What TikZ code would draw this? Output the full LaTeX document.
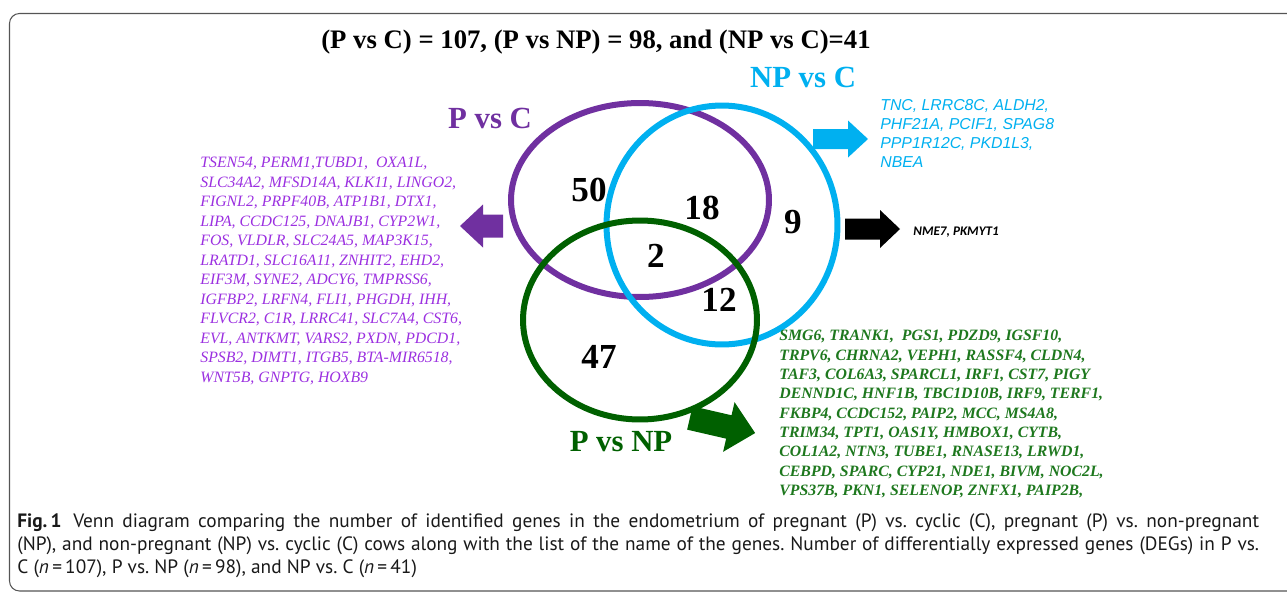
\documentclass[tikz,border=0pt]{standalone}
\usepackage{fontspec}
\setmainfont{Liberation Serif}
\newfontfamily\arialfont{Liberation Sans}
\newfontfamily\capfont{PT Sans}
\newfontfamily\calfont{Carlito}
\usepackage{xcolor}
\definecolor{pcpurple}{HTML}{7030A0}
\definecolor{pclist}{HTML}{9B30E0}
\definecolor{npcyan}{HTML}{00B0F0}
\definecolor{pngreen}{HTML}{006000}
\definecolor{pnlist}{HTML}{1E781E}
\definecolor{framegray}{HTML}{555555}
\usetikzlibrary{shapes.geometric}
\frenchspacing

\begin{document}
\begin{tikzpicture}[
    x=0.02cm, y=-0.02cm,
    ring/.style={ellipse, draw, line width=0.12cm, inner sep=0},
    setlbl/.style={font=\fontsize{17.5}{20}\selectfont\bfseries},
    num/.style={font=\fontsize{20}{22}\selectfont\bfseries},
    glist/.style={anchor=north west, align=left, inner sep=0}
]
\useasboundingbox (0,0) rectangle (1287,592);
\clip (0,0) rectangle (1287,592);

% Frame
\draw[framegray, line width=0.6pt, rounded corners=0.2cm] (9.5,13.5) rectangle (1320,591);

% Title
\node[font=\fontsize{15.2}{17}\selectfont\bfseries] (ttl) at (596,42) {(P vs C) = 107, (P vs NP) = 98, and (NP vs C)=41};

% Sets
\node[ring, pcpurple, minimum width=5.16cm, minimum height=3.88cm] (pc) at (640,200) {};
\node[ring, npcyan, minimum width=4.62cm, minimum height=4.78cm] (npc) at (722,225) {};
\node[ring, pngreen, minimum width=4.68cm, minimum height=3.98cm] (pnp) at (640,320) {};

\node[setlbl, pcpurple] (pclbl) at (490,118) {P vs C};
\node[setlbl, npcyan] (npclbl) at (803,77) {NP vs C};
\node[setlbl, pngreen] (pnplbl) at (621,442) {P vs NP};

% Counts
\node[num] (n50) at (589,190) {50};
\node[num] (n18) at (702,208) {18};
\node[num] (n9) at (793,222) {9};
\node[num] (n2) at (656,256) {2};
\node[num] (n12) at (719,300) {12};
\node[num] (n47) at (599,357) {47};

% Arrows to the lists
\fill[pcpurple] (503,214.5) -- (483,214.5) -- (483,204.5) -- (460,226) -- (483,247.5) -- (483,237.5) -- (503,237.5) -- cycle;
\fill[npcyan] (813,129) -- (848,129) -- (848,120.5) -- (868,139) -- (848,157.5) -- (848,149) -- (813,149) -- cycle;
\fill[black] (845,218.5) -- (880,218.5) -- (880,210) -- (900,229) -- (880,248) -- (880,239.5) -- (845,239.5) -- cycle;
\begin{scope}[shift={(722.5,425.5)}, rotate=-13]
  \fill[pngreen] (-33.5,-12) -- (6.5,-12) -- (6.5,-25.5) -- (33.5,0) -- (6.5,25.5) -- (6.5,12) -- (-33.5,12) -- cycle;
\end{scope}

% Gene lists
\node[glist, pclist, font=\fontsize{9}{11.1}\selectfont\itshape] (pcgenes) at (200,157) {TSEN54, PERM1,TUBD1,~ OXA1L,\\
SLC34A2, MFSD14A, KLK11, LINGO2,\\
FIGNL2, PRPF40B, ATP1B1, DTX1,\\
LIPA, CCDC125, DNAJB1, CYP2W1,\\
FOS, VLDLR, SLC24A5, MAP3K15,\\
LRATD1, SLC16A11, ZNHIT2, EHD2,\\
EIF3M, SYNE2, ADCY6, TMPRSS6,\\
IGFBP2, LRFN4, FLI1, PHGDH, IHH,\\
FLVCR2, C1R, LRRC41, SLC7A4, CST6,\\
EVL, ANTKMT, VARS2, PXDN, PDCD1,\\
SPSB2, DIMT1, ITGB5, BTA-MIR6518,\\
WNT5B, GNPTG, HOXB9};
\node[glist, npcyan, font=\arialfont\fontsize{9}{10.8}\selectfont\itshape] (npcgenes) at (880,99) {TNC, LRRC8C, ALDH2,\\
PHF21A, PCIF1, SPAG8\\
PPP1R12C, PKD1L3,\\
NBEA};
\node[anchor=base west, inner sep=0, font=\calfont\fontsize{7.5}{9}\selectfont\bfseries\itshape] (cgenes) at (913,235) {NME7, PKMYT1};
\node[glist, pnlist, font=\fontsize{9}{11}\selectfont\bfseries\itshape] (pnpgenes) at (779,330) {SMG6, TRANK1,~ PGS1, PDZD9, IGSF10,\\
TRPV6, CHRNA2, VEPH1, RASSF4, CLDN4,\\
TAF3, COL6A3, SPARCL1, IRF1, CST7, PIGY\\
DENND1C, HNF1B, TBC1D10B, IRF9, TERF1,\\
FKBP4, CCDC152, PAIP2, MCC, MS4A8,\\
TRIM34, TPT1, OAS1Y, HMBOX1, CYTB,\\
COL1A2, NTN3, TUBE1, RNASE13, LRWD1,\\
CEBPD, SPARC, CYP21, NDE1, BIVM, NOC2L,\\
VPS37B, PKN1, SELENOP, ZNFX1, PAIP2B,};

% Caption
\node[glist, align=justify, text width=24.84cm, font=\capfont\fontsize{11}{13.3}\selectfont, text=black!90] (cap) at (17,513) {\textbf{Fig.\,1}\hspace{0.6em}Venn diagram comparing the number of identified genes in the endometrium of pregnant (P) vs. cyclic (C), pregnant (P) vs. non-pregnant\linebreak
(NP), and non-pregnant (NP) vs. cyclic (C) cows along with the list of the name of the genes. Number of differentially expressed genes (DEGs) in P vs.\linebreak
C (\textit{n}\,=\,107), P vs. NP (\textit{n}\,=\,98), and NP vs. C (\textit{n}\,=\,41)};
\end{tikzpicture}
\end{document}
